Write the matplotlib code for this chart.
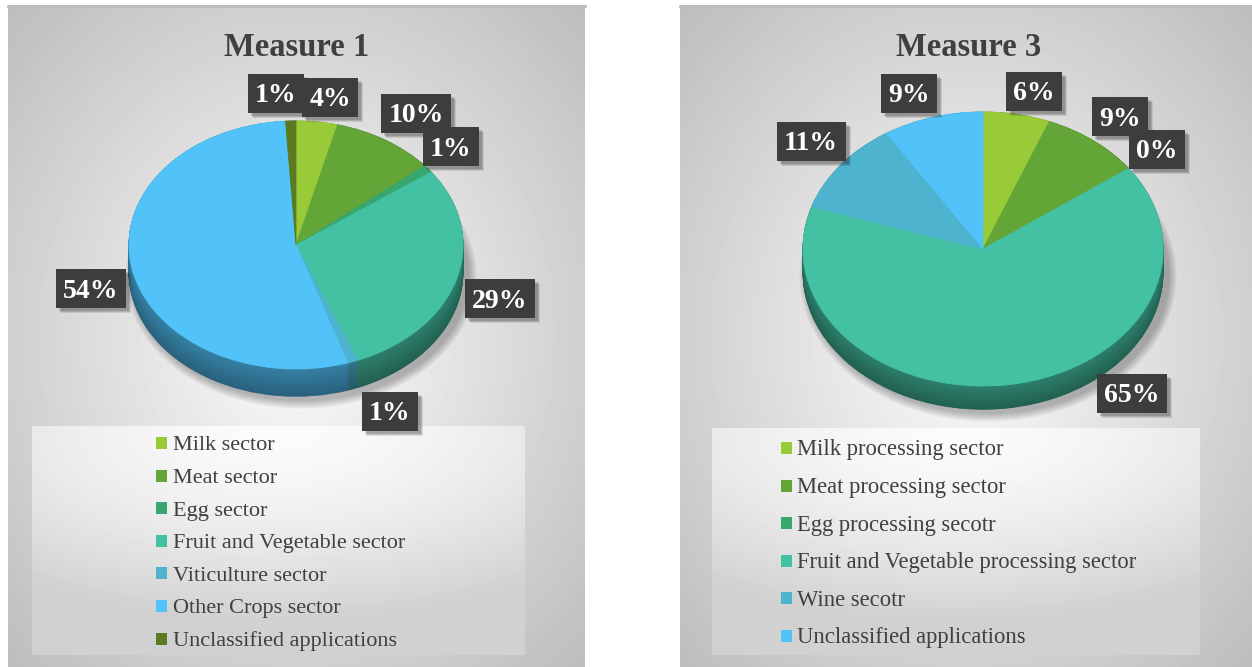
import numpy as np
import matplotlib
matplotlib.use("Agg")
import matplotlib.pyplot as plt
from matplotlib.patches import Rectangle, Ellipse

plt.rcParams["font.family"] = ["Liberation Serif", "DejaVu Serif"]

# ---- data -------------------------------------------------------------
measure1_labels = ["Milk sector", "Meat sector", "Egg sector",
                   "Fruit and Vegetable sector", "Viticulture sector",
                   "Other Crops sector", "Unclassified applications"]
measure1_values = [4, 10, 1, 29, 1, 54, 1]

measure3_labels = ["Milk processing sector", "Meat processing sector",
                   "Egg processing secotr",
                   "Fruit and Vegetable processing sector", "Wine secotr",
                   "Unclassified applications"]
measure3_values = [6, 9, 0, 65, 11, 9]

palette1 = ["#99CB38", "#63A537", "#37A76F", "#44C1A3", "#4EB3CF", "#51C3F9", "#5C7A21"]
palette3 = ["#99CB38", "#63A537", "#37A76F", "#44C1A3", "#4EB3CF", "#51C3F9"]

# ---- layout (pixels) --------------------------------------------------
W, H = 1252, 667
TXT = "#404040"

fig = plt.figure(figsize=(W / 100, H / 100), dpi=100)

bg = fig.add_axes([0, 0, 1, 1], zorder=0)
bg.set_xlim(0, W)
bg.set_ylim(H, 0)
bg.axis("off")


def radial_fill(ax, x0, y0, x1, y1, cx, cy, inner, outer, power=1.3):
    w, h = int(x1 - x0), int(y1 - y0)
    yy, xx = np.mgrid[0:h, 0:w]
    r = np.hypot((xx - cx) / (w / 2), (yy - cy) / (h / 2)) / np.sqrt(2)
    v = inner - (inner - outer) * np.clip(r, 0, 1.2) ** power
    ax.imshow(v, cmap="gray", vmin=0, vmax=1, extent=(x0, x1, y1, y0),
              origin="upper", aspect="auto", interpolation="bilinear")


# panel backgrounds
panels = [(8, 5, 585, 667), (680, 5, 1252, 667)]
for (x0, y0, x1, y1) in panels:
    radial_fill(bg, x0, y0, x1, y1, (x1 - x0) / 2, 330, 0.99, 0.74, power=1.0)
    bg.plot([x0, x1], [y0 + 1, y0 + 1], color="#bcbcbc", lw=2)

# legend boxes
legend_boxes = [(32, 426, 525, 655), (712, 428, 1200, 655)]
for (x0, y0, x1, y1) in legend_boxes:
    radial_fill(bg, x0, y0, x1, y1, (x1 - x0) / 2, 0, 0.985, 0.86, power=1.6)


# soft drop shadow under each pie
def pie_shadow(cx, cy, rx, ry, depth_px):
    for k in range(8):
        grow = 2 + 2.2 * k
        bg.add_patch(Ellipse((cx + 5, cy + depth_px + 4), 2 * rx + grow,
                             2 * ry + grow, facecolor="black",
                             edgecolor="none", alpha=0.035, zorder=2))


pie_shadow(296, 245, 167, 124, 27)
pie_shadow(983, 249, 180, 137, 23)

bg.set_xlim(0, W)
bg.set_ylim(H, 0)


# ---- 3-D style pies ---------------------------------------------------
def shade(hex_color, f):
    c = np.array(matplotlib.colors.to_rgb(hex_color))
    return tuple(np.clip(c * f, 0, 1))


def pie3d(cx, cy, rx, ry, depth, values, colors):
    ax = fig.add_axes([(cx - 1.3 * rx) / W, 1 - (cy + 1.3 * ry) / H,
                       2.6 * rx / W, 2.6 * ry / H], zorder=1)
    ax.patch.set_visible(False)
    n = 36
    for i in range(n - 1, -1, -1):
        t = i / (n - 1)
        f = 0.66 - 0.16 * t
        wedges, _ = ax.pie(values, colors=[shade(c, f) for c in colors],
                           startangle=90, counterclock=False,
                           center=(0, -depth * t), radius=1.0)
        for w, v in zip(wedges, values):
            w.set_edgecolor(w.get_facecolor())
            w.set_linewidth(0.6 if v > 0 else 0)
    wedges, _ = ax.pie(values, colors=colors, startangle=90,
                       counterclock=False, center=(0, 0), radius=1.0)
    for w, v in zip(wedges, values):
        w.set_edgecolor(w.get_facecolor())
        w.set_linewidth(0.6 if v > 0 else 0)
    ax.set_xlim(-1.3, 1.3)
    ax.set_ylim(-1.3, 1.3)
    ax.set_aspect("auto")
    ax.axis("off")
    return ax


pie3d(296, 245, 167, 124, 0.22, measure1_values, palette1)
pie3d(983, 249, 180, 137, 0.17, measure3_values, palette3)

# ---- foreground: titles, value labels, legends ------------------------
fg = fig.add_axes([0, 0, 1, 1], zorder=2)
fg.set_xlim(0, W)
fg.set_ylim(H, 0)
fg.axis("off")
fg.patch.set_visible(False)

fg.text(297, 56, "Measure 1", ha="center", va="baseline", fontsize=23.5,
        fontweight="bold", color=TXT)
fg.text(969, 56, "Measure 3", ha="center", va="baseline", fontsize=23.5,
        fontweight="bold", color=TXT)

label_pos1 = [(330, 97), (416, 113), (451, 146), (500, 298), (390, 411),
              (91, 288), (276, 93)]
label_pos3 = [(1034, 91), (1120, 116), (1157, 149), (1132, 393),
              (811, 141), (909, 93)]

renderer = fig.canvas.get_renderer()


def value_label(x, y, value):
    t = fg.text(x, y + 9.5, f"{value}%", ha="center", va="baseline",
                fontsize=20, fontweight="bold", color="white", zorder=6)
    tw = t.get_window_extent(renderer).width
    bw, bh = tw + 15, 39
    for k, a in ((5, 0.10), (4, 0.12), (3, 0.15)):
        fg.add_patch(Rectangle((x - bw / 2 + k, y - bh / 2 + k), bw, bh,
                               facecolor="black", edgecolor="none",
                               alpha=a, zorder=4))
    fg.add_patch(Rectangle((x - bw / 2, y - bh / 2), bw, bh,
                           facecolor="#3d3d3d", edgecolor="none", zorder=5))


for (x, y), v in zip(label_pos1, measure1_values):
    value_label(x, y, v)
for (x, y), v in zip(label_pos3, measure3_values):
    value_label(x, y, v)


def legend(labels, colors, mx, tx, y0, step, size):
    for i, (lab, col) in enumerate(zip(labels, colors)):
        y = y0 + i * step
        fg.add_patch(Rectangle((mx, y - 6), 11, 12, facecolor=col,
                               edgecolor="none", zorder=3))
        fg.text(tx, y + 7.5, lab, ha="left", va="baseline", fontsize=size,
                color=TXT, zorder=3)


legend(measure1_labels, palette1, 156, 173, 443, 32.6, 16)
legend(measure3_labels, palette3, 781, 797, 448, 37.5, 16.3)

fig.savefig("out.png", dpi=100)
